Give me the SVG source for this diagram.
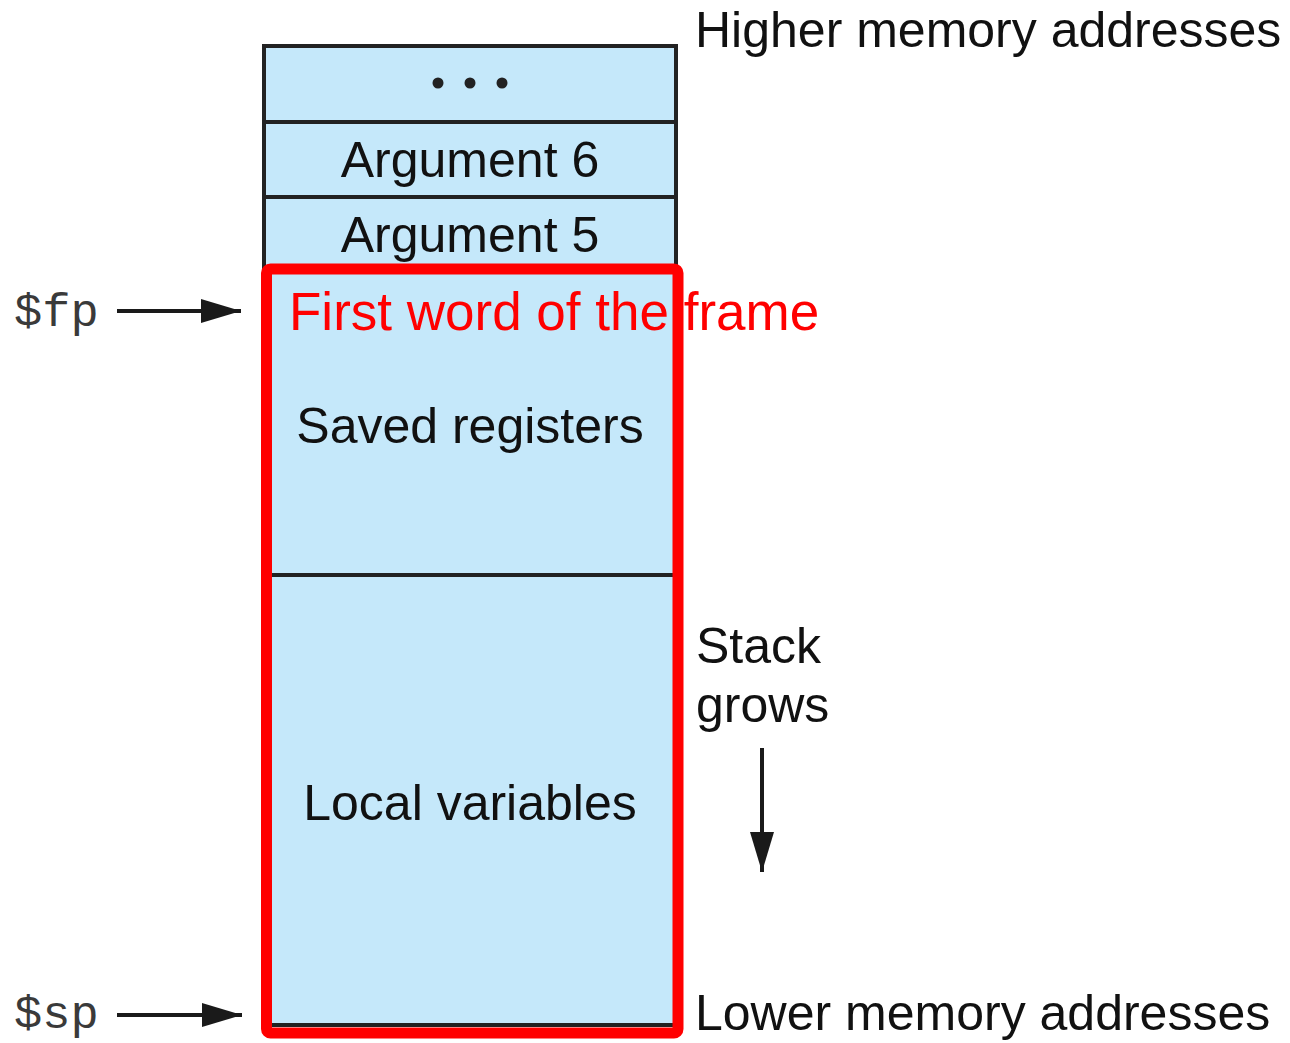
<svg xmlns="http://www.w3.org/2000/svg" width="1290" height="1043" viewBox="0 0 1290 1043">
  <style>
    .lbl { font-family: "Liberation Sans", Arial, sans-serif; font-size: 50px; fill: #111; }
    .mid { text-anchor: middle; }
    .reg { font-family: "Liberation Mono", "DejaVu Sans Mono", monospace; font-size: 47px; fill: #3a3a3a; }
    .cell { fill: #c5e8fa; stroke: #222; stroke-width: 4; }
    .rule { stroke: #222; stroke-width: 4; }
    .conn { stroke: #1a1a1a; stroke-width: 4; fill: none; }
    .frame { fill: none; stroke: #ff0000; stroke-width: 11; }
    .note { font-family: "Liberation Sans", Arial, sans-serif; font-size: 53px; fill: #ff0000; }
  </style>
  <defs>
    <marker id="head" viewBox="0 0 40 24" refX="40" refY="12" markerWidth="40" markerHeight="24" markerUnits="userSpaceOnUse" orient="auto">
      <path d="M0,0 L40,12 L0,24 Z" fill="#1a1a1a"/>
    </marker>
  </defs>

  <rect width="1290" height="1043" fill="#ffffff"/>

  <!-- stack column -->
  <g id="stack">
    <rect class="cell" x="264" y="46" width="412" height="979"/>
    <line class="rule" x1="264" y1="122" x2="676" y2="122"/>
    <line class="rule" x1="264" y1="197" x2="676" y2="197"/>
    <line class="rule" x1="264" y1="575" x2="676" y2="575"/>
  </g>

  <g id="ellipsis">
    <circle cx="438" cy="83" r="5.5" fill="#222"/>
    <circle cx="470" cy="83" r="5.5" fill="#222"/>
    <circle cx="502" cy="83" r="5.5" fill="#222"/>
  </g>
  <g id="arg6"><text class="lbl mid" x="470" y="177">Argument 6</text></g>
  <g id="arg5"><text class="lbl mid" x="470" y="252">Argument 5</text></g>
  <g id="saved"><text class="lbl mid" x="470" y="443">Saved registers</text></g>
  <g id="locals"><text class="lbl mid" x="470" y="820">Local variables</text></g>

  <!-- highlighted frame -->
  <g id="frame">
    <rect class="frame" x="266.5" y="269" width="411.5" height="764" rx="4"/>
    <text class="note" x="289" y="330">First word of the frame</text>
  </g>

  <!-- side labels -->
  <g id="higher"><text class="lbl" x="695" y="47">Higher memory addresses</text></g>
  <g id="lower"><text class="lbl" x="695" y="1030">Lower memory addresses</text></g>
  <g id="grows">
    <text class="lbl" x="696" y="663">Stack</text>
    <text class="lbl" x="696" y="722">grows</text>
  </g>
  <g id="fp"><text class="reg" x="14" y="326">$fp</text></g>
  <g id="sp"><text class="reg" x="14" y="1028">$sp</text></g>

  <!-- connectors -->
  <g id="connectors">
    <line class="conn" x1="117" y1="311" x2="241" y2="311" marker-end="url(#head)"/>
    <line class="conn" x1="117" y1="1015" x2="242" y2="1015" marker-end="url(#head)"/>
    <line class="conn" x1="762" y1="748" x2="762" y2="872" marker-end="url(#head)"/>
  </g>
</svg>
